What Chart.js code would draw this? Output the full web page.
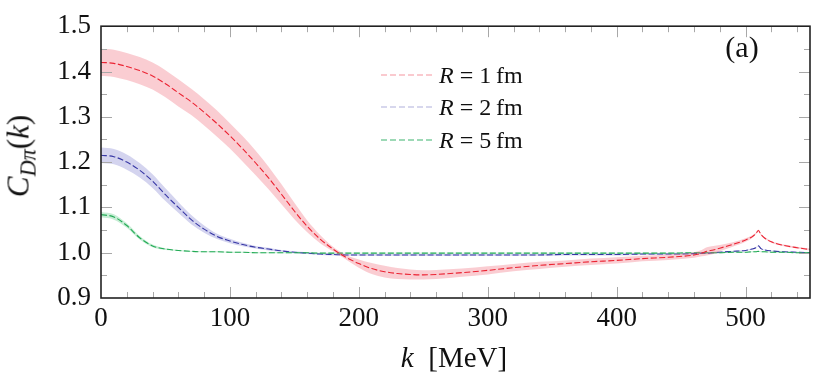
<!DOCTYPE html>
<html>
<head>
<meta charset="utf-8">
<script src="https://cdn.jsdelivr.net/npm/chart.js@4/dist/chart.umd.min.js"></script>
<style>
  body { margin: 0; background: #fff; }
  #wrap { position: relative; width: 814px; height: 380px; font-family: "Liberation Serif", "DejaVu Serif", serif; color: #111; }
  #wrap .lbl { position: absolute; white-space: nowrap; transform: translate(-50%, -50%); line-height: 1; }
  #wrap #ytitle { left: 21px; top: 156px; font-size: 31px; transform: translate(-50%, -50%) rotate(-90deg); }
  #wrap #xtitle { left: 454px; top: 357px; font-size: 29px; }
  #wrap #tag { left: 742px; top: 47px; font-size: 30px; }
  .leg { position: absolute; left: 381px; height: 24px; display: flex; align-items: center; font-size: 24px; transform: translateY(-50%); white-space: nowrap; }
  .leg svg { margin-right: 6px; }
  sub { font-size: 0.72em; vertical-align: -0.3em; }
</style>
</head>
<body>
<div id="wrap">
  <canvas id="chart" width="814" height="380"></canvas>
  <div class="lbl" id="ytitle"><i>C</i><sub><i>Dπ</i></sub>(<i>k</i>)</div>
  <div class="lbl" id="xtitle"><i>k</i>&nbsp; [MeV]</div>
  <div class="lbl" id="tag">(a)</div>
  <div id="legend"></div>
</div>
<script>
// k grid [MeV]
const kValues = [0, 10, 20, 30, 40, 50, 60, 70, 80, 90, 100, 110, 120, 130, 140, 150, 160, 170, 180, 190,
  200, 210, 220, 230, 240, 250, 260, 280, 300, 320, 340, 360, 380, 400, 420, 440, 460,
  466, 470, 475, 480, 490, 500, 505, 508, 510, 512, 515, 520, 530, 540, 550];
const xTicks = [0, 100, 200, 300, 400, 500];

// R = 1 fm
const midR1 = [1.420, 1.418, 1.411, 1.402, 1.390, 1.373, 1.353, 1.333, 1.310, 1.285, 1.258, 1.229, 1.198, 1.165, 1.129, 1.092, 1.058, 1.030, 1.008, 0.990,
  0.976, 0.965, 0.958, 0.954, 0.952, 0.951, 0.952, 0.956, 0.961, 0.967, 0.972, 0.976, 0.980, 0.983, 0.987, 0.990, 0.995,
  0.999, 1.003, 1.006, 1.010, 1.018, 1.028, 1.035, 1.042, 1.049, 1.040, 1.032, 1.024, 1.016, 1.011, 1.007];
const errR1 = [0.030, 0.030, 0.030, 0.030, 0.030, 0.030, 0.030, 0.029, 0.029, 0.029, 0.028, 0.028, 0.027, 0.025, 0.022, 0.018, 0.013, 0.009, 0.005, 0.005,
  0.009, 0.012, 0.013, 0.012, 0.011, 0.010, 0.010, 0.009, 0.009, 0.008, 0.008, 0.007, 0.007, 0.007, 0.006, 0.006, 0.006,
  0.007, 0.009, 0.009, 0.007, 0.005, 0.004, 0.003, 0.002, 0.002, 0.002, 0.002, 0.002, 0.002, 0.002, 0.002];

// R = 2 fm
const midR2 = [1.215, 1.212, 1.200, 1.182, 1.158, 1.128, 1.100, 1.073, 1.052, 1.036, 1.026, 1.018, 1.012, 1.008, 1.004, 1.001, 0.999, 0.997, 0.996, 0.995,
  0.995, 0.995, 0.995, 0.995, 0.995, 0.995, 0.995, 0.995, 0.995, 0.995, 0.995, 0.996, 0.996, 0.996, 0.997, 0.997, 0.998,
  0.999, 0.999, 1.000, 1.001, 1.003, 1.005, 1.008, 1.011, 1.015, 1.009, 1.006, 1.004, 1.002, 1.001, 1.000];
const errR2 = [0.017, 0.017, 0.017, 0.016, 0.015, 0.014, 0.012, 0.010, 0.008, 0.006, 0.005, 0.004, 0.003, 0.003, 0.002, 0.002, 0.002, 0.002, 0.002, 0.002,
  0.002, 0.002, 0.002, 0.002, 0.002, 0.002, 0.002, 0.002, 0.002, 0.002, 0.002, 0.002, 0.002, 0.002, 0.002, 0.002, 0.002,
  0.002, 0.002, 0.002, 0.002, 0.001, 0.001, 0.001, 0.001, 0.001, 0.001, 0.001, 0.001, 0.001, 0.001, 0.001];

// R = 5 fm
const midR5 = [1.084, 1.079, 1.060, 1.033, 1.015, 1.008, 1.005, 1.003, 1.002, 1.002, 1.001, 1.001, 1.000, 1.000, 1.000, 1.000, 1.000, 0.999, 0.999, 0.999,
  0.999, 0.999, 0.999, 0.999, 0.999, 0.999, 0.999, 0.999, 0.999, 0.999, 0.999, 0.999, 0.999, 0.999, 0.999, 0.999, 1.000,
  1.000, 1.000, 1.000, 1.000, 1.001, 1.001, 1.002, 1.002, 1.003, 1.002, 1.002, 1.001, 1.001, 1.000, 1.000];
const errR5 = [0.006, 0.006, 0.005, 0.004, 0.003, 0.002, 0.001, 0.001, 0.001, 0.001, 0.001, 0.001, 0.001, 0.001, 0.001, 0.001, 0.001, 0.001, 0.001, 0.001,
  0.001, 0.001, 0.001, 0.001, 0.001, 0.001, 0.001, 0.001, 0.001, 0.001, 0.001, 0.001, 0.001, 0.001, 0.001, 0.001, 0.001,
  0.001, 0.001, 0.001, 0.001, 0.001, 0.001, 0.001, 0.001, 0.001, 0.001, 0.001, 0.001, 0.001, 0.001, 0.001];

const seriesNames = ["R = 1 fm", "R = 2 fm", "R = 5 fm"];
const lineColors = ["rgb(235,35,50)", "rgb(55,55,165)", "rgb(35,170,85)"];
const bandColors = ["rgba(240,90,105,0.30)", "rgba(120,120,205,0.32)", "rgba(70,195,115,0.30)"];
const legendColors = ["rgb(245,150,160)", "rgb(175,175,220)", "rgb(60,180,110)"];

const series = [[midR1, errR1], [midR2, errR2], [midR5, errR5]];

// red on top, then green, blue at the bottom
const drawOrder = [0, 2, 1];
const datasets = [];
drawOrder.forEach(i => {
  const [mid, err] = series[i];
  datasets.push({
    label: seriesNames[i],
    data: kValues.map((k, j) => ({ x: k, y: mid[j] })),
    borderColor: lineColors[i],
    borderWidth: 1.1,
    borderDash: [6, 2.5],
    fill: false
  });
  datasets.push({
    label: seriesNames[i] + " upper",
    data: kValues.map((k, j) => ({ x: k, y: mid[j] + err[j] })),
    borderWidth: 0,
    backgroundColor: bandColors[i],
    fill: "+1"
  });
  datasets.push({
    label: seriesNames[i] + " lower",
    data: kValues.map((k, j) => ({ x: k, y: mid[j] - err[j] })),
    borderWidth: 0,
    fill: false
  });
});

// frame with inward ticks, like the pgfplots box
const frameTicks = {
  id: "frameTicks",
  afterDatasetsDraw(chart) {
    const { ctx, chartArea: a, scales: { x, y } } = chart;
    ctx.save();
    ctx.strokeStyle = "#a8a8a8";
    ctx.lineWidth = 1;
    const seg = (x1, y1, x2, y2) => { ctx.beginPath(); ctx.moveTo(x1, y1); ctx.lineTo(x2, y2); ctx.stroke(); };
    for (let v = 20; v < 550; v += 20) {
      const px = Math.round(x.getPixelForValue(v)) + 0.5;
      const len = v % 100 === 0 ? 11 : 6;
      seg(px, a.bottom, px, a.bottom - len);
      seg(px, a.top, px, a.top + len);
    }
    for (let n = 1; n < 12; n++) {
      const v = 0.9 + n * 0.05;
      const py = Math.round(y.getPixelForValue(v)) + 0.5;
      const len = n % 2 === 0 ? 11 : 6;
      seg(a.left, py, a.left + len, py);
      seg(a.right, py, a.right - len, py);
    }
    ctx.strokeStyle = "#222";
    ctx.lineWidth = 1.6;
    ctx.strokeRect(a.left, a.top, a.right - a.left, a.bottom - a.top);
    ctx.restore();
  }
};

const tickFont = { family: "'Liberation Serif', 'DejaVu Serif', serif", size: 27 };

new Chart("chart", {
  type: "line",
  data: { datasets: datasets },
  options: {
    responsive: false,
    animation: false,
    layout: { padding: { left: 0, right: 4, top: 11, bottom: 0 } },
    elements: {
      point: { radius: 0 },
      line: { cubicInterpolationMode: "monotone" }
    },
    plugins: {
      legend: { display: false },
      tooltip: { enabled: false }
    },
    scales: {
      x: {
        type: "linear",
        min: 0,
        max: 550,
        grid: { display: false, drawTicks: false },
        border: { display: false },
        ticks: { padding: 5, color: "#111", font: tickFont, maxRotation: 0 },
        afterBuildTicks: s => { s.ticks = xTicks.map(v => ({ value: v })); },
        afterFit: s => { s.height = 82; }
      },
      y: {
        min: 0.9,
        max: 1.5,
        grid: { display: false, drawTicks: false },
        border: { display: false },
        ticks: { stepSize: 0.1, padding: 10, color: "#111", font: tickFont, callback: v => v.toFixed(1) },
        afterFit: s => { s.width = 101; }
      }
    }
  },
  plugins: [frameTicks]
});

// legend (html so the R can be italic)
const rowY = [75, 107, 140];
const legend = document.getElementById("legend");
seriesNames.forEach((name, i) => {
  const row = document.createElement("div");
  row.className = "leg";
  row.style.top = rowY[i] + "px";
  row.innerHTML = '<svg width="52" height="4"><line x1="0" y1="2" x2="52" y2="2" stroke="' + legendColors[i] +
    '" stroke-width="1.2" stroke-dasharray="6 3"/></svg><span>' +
    name.replace("R", "<i>R</i>").replace(" fm", "&thinsp;fm") + '</span>';
  legend.appendChild(row);
});
</script>
</body>
</html>
